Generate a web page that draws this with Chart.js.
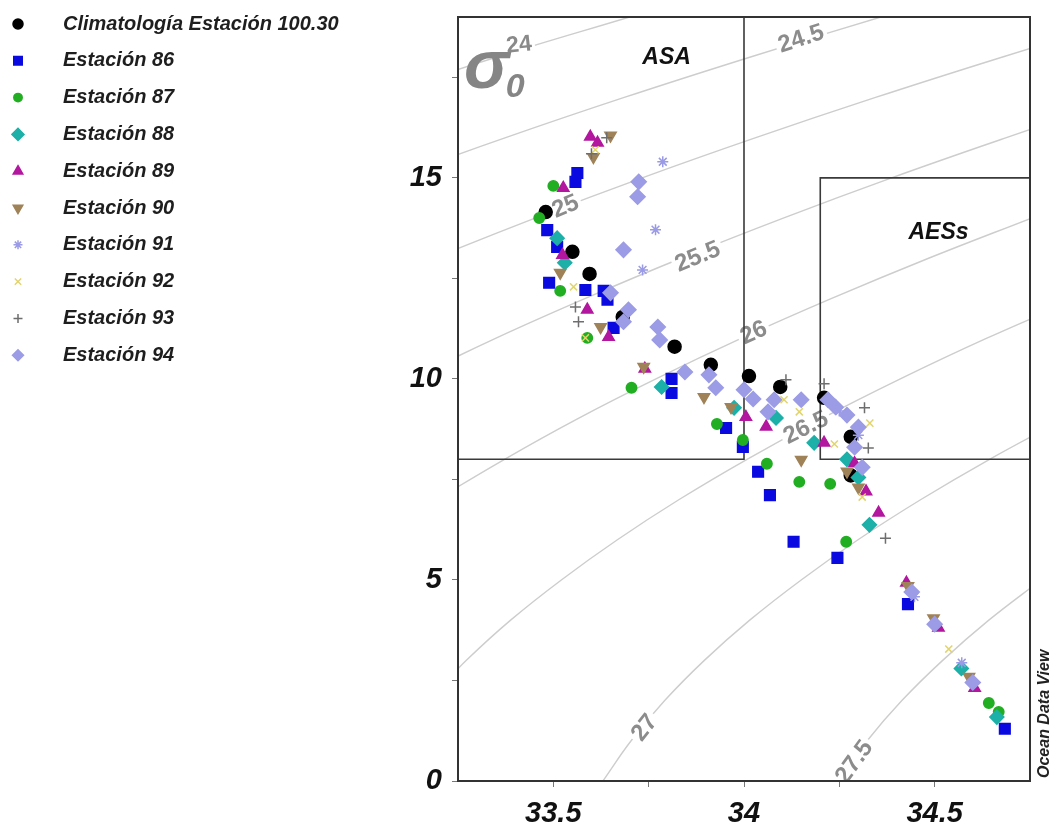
<!DOCTYPE html>
<html>
<head>
<meta charset="utf-8">
<script src="https://cdn.jsdelivr.net/npm/chart.js@4/dist/chart.umd.min.js"></script>
<style>
html, body { margin: 0; padding: 0; background: #fff; }
#wrap { width: 1061px; height: 835px; }
</style>
</head>
<body>
<div id="wrap"><canvas id="ts" width="1061" height="835"></canvas></div>
<script>
// axis ticks
const xTicks = [33.5, 33.75, 34, 34.25, 34.5];
const yTicks = [0, 2.5, 5, 7.5, 10, 12.5, 15, 17.5];
const xLabeled = [33.5, 34, 34.5];
const yLabeled = [0, 5, 10, 15];

const seriesNames = ['Climatología Estación 100.30', 'Estación 86', 'Estación 87', 'Estación 88',
  'Estación 89', 'Estación 90', 'Estación 91', 'Estación 92', 'Estación 93', 'Estación 94'];

// [salinity, temperature]
const clim = [[33.48,14.15],[33.55,13.16],[33.595,12.61],[33.682,11.54],[33.818,10.8],[33.913,10.35],
  [34.013,10.07],[34.095,9.8],[34.21,9.53],[34.28,8.56],[34.28,7.6]];
const est86 = [[33.563,15.12],[33.558,14.9],[33.484,13.7],[33.51,13.28],[33.489,12.39],[33.584,12.21],
  [33.632,12.19],[33.642,11.97],[33.658,11.27],[33.81,10.0],[33.81,9.65],[33.953,8.78],[33.997,8.31],[34.037,7.69],
  [34.068,7.11],[34.13,5.95],[34.245,5.55],[34.43,4.4],[34.684,1.3]];
const est87 = [[33.5,14.8],[33.463,14.0],[33.518,12.19],[33.589,11.02],[33.705,9.78],[33.929,8.88],
  [33.997,8.48],[34.06,7.89],[34.145,7.44],[34.226,7.39],[34.268,5.95],[34.642,1.94],[34.668,1.72]];
const est88 = [[33.53,12.89],[33.51,13.5],[33.784,9.8],[33.974,9.28],[34.084,9.03],[34.184,8.41],[34.27,8.0],
  [34.3,7.55],[34.329,6.37],[34.57,2.8],[34.663,1.59]];
const est89 = [[33.597,16.02],[33.616,15.87],[33.526,14.75],[33.524,13.08],[33.589,11.72],[33.645,11.04],
  [33.74,10.25],[34.005,9.05],[34.058,8.81],[34.21,8.41],[34.29,7.9],[34.32,7.2],[34.353,6.67],[34.426,4.93],
  [34.51,3.81],[34.605,2.31]];
const est90 = [[33.605,15.52],[33.65,16.05],[33.518,12.64],[33.624,11.29],[33.737,10.3],[33.895,9.55],[33.966,9.3],
  [34.15,7.99],[34.27,7.7],[34.3,7.3],[34.43,4.85],[34.497,4.05],[34.59,2.59]];
const est91 = [[33.787,15.4],[33.768,13.71],[33.734,12.71],[34.25,9.2],[34.3,8.6],[34.447,4.58],[34.571,2.94]];
const est92 = [[33.61,15.7],[33.553,12.29],[33.584,11.02],[34.105,9.48],[34.145,9.18],[34.237,8.38],[34.33,8.9],
  [34.31,7.06],[34.537,3.28]];
const est93 = [[33.6,15.6],[33.64,16.0],[33.558,11.79],[33.566,11.42],[34.11,9.98],[34.21,9.88],[34.316,9.28],
  [34.326,8.28],[34.371,6.04]];
const est94 = [[33.724,14.9],[33.721,14.53],[33.684,13.21],[33.65,12.14],[33.697,11.72],[33.684,11.42],
  [33.774,11.29],[33.779,10.97],[33.845,10.17],[33.908,10.1],[33.926,9.78],[34.0,9.73],[34.024,9.5],[34.079,9.48],
  [34.063,9.18],[34.15,9.48],[34.22,9.48],[34.24,9.3],[34.27,9.1],[34.3,8.8],[34.29,8.3],[34.31,7.8],
  [34.44,4.7],[34.5,3.9],[34.6,2.45]];

// sigma-0 isopycnals
const sig24 = [[32.72,16],[33.03,17],[33.35,18],[33.70,19],[34.05,20]];
const sig245 = [[32.8,14],[33.08,15],[33.375,16],[33.686,17],[34.015,18],[34.359,19],[34.72,20]];
const sig25 = [[32.938,12],[33.187,13],[33.452,14],[33.733,15],[34.031,16],[34.345,17],[34.676,18],[35.02,19]];
const sig255 = [[32.923,9],[33.128,10],[33.347,11],[33.584,12],[33.835,13],[34.103,14],[34.387,15],[34.688,16],[35.0,17]];
const sig26 = [[33.037,6],[33.196,7],[33.372,8],[33.562,9],[33.769,10],[33.991,11],[34.23,12],[34.484,13],[34.754,14]];
const sig265 = [[33.17,2],[33.272,3],[33.388,4],[33.521,5],[33.668,6],[33.83,7],[34.008,8],[34.201,9],[34.41,10],[34.634,11],[34.876,12]];
const sig27 = [[33.63,0],[33.704,1],[33.792,2],[33.896,3],[34.015,4],[34.15,5],[34.299,6],[34.464,7],[34.644,8],[34.839,9]];
const sig275 = [[34.247,0],[34.323,1],[34.414,2],[34.521,3],[34.642,4],[34.779,5]];

const asaBox = [[33.25,8],[34,8],[34,19]];
const aessBox = [[34.75,8],[34.2,8],[34.2,15],[34.75,15]];

const contourLabels = [
  {text: '24.5', s: 34.15, t: 18.45, rot: -18},
  {text: '25', s: 33.532, t: 14.28, rot: -22},
  {text: '25.5', s: 33.879, t: 13.03, rot: -22},
  {text: '26', s: 34.026, t: 11.14, rot: -24},
  {text: '26.5', s: 34.163, t: 8.78, rot: -26},
  {text: '27', s: 33.74, t: 1.32, rot: -52},
  {text: '27.5', s: 34.29, t: 0.47, rot: -54}
];

const FONT = '"Liberation Sans", Arial, sans-serif';
const toXY = arr => arr.map(p => ({x: p[0], y: p[1]}));

function contour(data) {
  return {type: 'scatter', data: toXY(data), showLine: true, pointRadius: 0, borderColor: '#cdcdcd',
    borderWidth: 1.4, tension: 0.4, order: 100};
}
function boxLine(data) {
  return {type: 'scatter', data: toXY(data), showLine: true, pointRadius: 0, borderColor: '#3a3a3a',
    borderWidth: 1.6, tension: 0, order: 50};
}
function stn(i, data, style, color, radius, legR, rot, fill) {
  return {label: seriesNames[i], data: toXY(data), pointStyle: style, pointRotation: rot || 0,
    pointRadius: radius, pointBackgroundColor: fill === false ? 'rgba(0,0,0,0)' : color,
    pointBorderColor: color, pointBorderWidth: 1.5, showLine: false, order: 10 - i, legendRadius: legR};
}

const stations = [
  stn(0, clim, 'circle', '#000000', 6.5, 5),
  stn(1, est86, 'rect', '#0a0ae0', 7.5, 6),
  stn(2, est87, 'circle', '#22ae22', 5.2, 4.2),
  stn(3, est88, 'rectRot', '#1cb0a8', 7, 6),
  stn(4, est89, 'triangle', '#b3169f', 6.5, 5.5),
  stn(5, est90, 'triangle', '#a08258', 6.5, 5.5, 180),
  stn(6, est91, 'star', '#9a9ae6', 5.5, 4.5, 0, false),
  stn(7, est92, 'crossRot', '#e2d46c', 5, 4.5, 0, false),
  stn(8, est93, 'cross', '#6e6e6e', 5.5, 4.5, 0, false),
  stn(9, est94, 'rectRot', '#9c9ce6', 7.5, 5.5)
];

function rotText(ctx, text, x, y, deg, font, color, bg) {
  ctx.save();
  ctx.translate(x, y);
  ctx.rotate(deg * Math.PI / 180);
  ctx.font = font;
  ctx.textAlign = 'center';
  ctx.textBaseline = 'middle';
  if (bg) {
    const w = ctx.measureText(text).width;
    ctx.fillStyle = '#fff';
    ctx.fillRect(-w / 2 - 3, -12, w + 6, 24);
  }
  ctx.fillStyle = color;
  ctx.fillText(text, 0, 0);
  ctx.restore();
}

const tsDecor = {
  id: 'tsDecor',
  afterDatasetDraw(chart, args) {
    // labels go on top of the isopycnals, under the boxes and points
    if (args.index !== 0) return;
    const ctx = chart.ctx, xs = chart.scales.x, ys = chart.scales.y;
    ctx.save();
    ctx.beginPath();
    ctx.rect(chart.chartArea.left, chart.chartArea.top, chart.chartArea.width, chart.chartArea.height);
    ctx.clip();
    contourLabels.forEach(l => {
      rotText(ctx, l.text, xs.getPixelForValue(l.s), ys.getPixelForValue(l.t), l.rot,
        'bold 24px ' + FONT, '#8c8c8c', true);
    });
    // sigma-theta tag, with the 24 isopycnal label
    rotText(ctx, '24', xs.getPixelForValue(33.41), ys.getPixelForValue(18.3), -6, 'bold 23px ' + FONT, '#8a8a8a', true);
    rotText(ctx, 'σ', xs.getPixelForValue(33.325), ys.getPixelForValue(17.7), 0, 'bold italic 68px ' + FONT, '#858585', false);
    rotText(ctx, '0', xs.getPixelForValue(33.4), ys.getPixelForValue(17.25), 0, 'bold italic 34px ' + FONT, '#858585', false);
    ctx.restore();
  },
  afterDatasetsDraw(chart) {
    const ctx = chart.ctx, a = chart.chartArea, xs = chart.scales.x, ys = chart.scales.y;
    ctx.save();
    ctx.strokeStyle = '#333';
    ctx.lineWidth = 2;
    ctx.strokeRect(a.left, a.top, a.right - a.left, a.bottom - a.top);
    rotText(ctx, 'ASA', xs.getPixelForValue(33.797), ys.getPixelForValue(18.0), 0, 'bold italic 23px ' + FONT, '#111', false);
    rotText(ctx, 'AESs', xs.getPixelForValue(34.51), ys.getPixelForValue(13.63), 0, 'bold italic 23px ' + FONT, '#111', false);
    ctx.translate(a.right + 15, a.bottom - 3);
    ctx.rotate(-Math.PI / 2);
    ctx.font = 'bold italic 16px ' + FONT;
    ctx.fillStyle = '#222';
    ctx.textAlign = 'left';
    ctx.textBaseline = 'middle';
    ctx.fillText('Ocean Data View', 0, 0);
    ctx.restore();
  },
  afterDraw(chart) {
    // legend at the upper left
    const ctx = chart.ctx;
    ctx.save();
    stations.forEach((d, i) => {
      const y = 24 + i * 36.8;
      ctx.fillStyle = d.pointBackgroundColor;
      ctx.strokeStyle = d.pointBorderColor;
      ctx.lineWidth = 1.5;
      Chart.helpers.drawPoint(ctx, {pointStyle: d.pointStyle, radius: d.legendRadius,
        rotation: d.pointRotation, borderWidth: 1.5}, 18, y);
      ctx.font = 'bold italic 20px ' + FONT;
      ctx.fillStyle = '#1e1e1e';
      ctx.textAlign = 'left';
      ctx.textBaseline = 'middle';
      ctx.fillText(d.label, 63, y);
    });
    ctx.restore();
  }
};

const datasets = [sig24, sig245, sig25, sig255, sig26, sig265, sig27, sig275].map(contour)
  .concat([boxLine(asaBox), boxLine(aessBox)])
  .concat(stations);

new Chart(document.getElementById('ts'), {
  type: 'scatter',
  data: {datasets: datasets},
  options: {
    responsive: false,
    animation: false,
    events: [],
    layout: {padding: {left: 0, top: 17, right: 31, bottom: 0}},
    plugins: {legend: {display: false}, tooltip: {enabled: false}},
    scales: {
      x: {
        type: 'linear', min: 33.25, max: 34.75,
        afterBuildTicks: s => { s.ticks = xTicks.map(v => ({value: v})); },
        afterFit: s => { s.height = 54; s.paddingLeft = 0; s.paddingRight = 0; },
        ticks: {
          autoSkip: false, maxRotation: 0, padding: 10, color: '#111',
          font: {family: FONT, size: 29, weight: 'bold', style: 'italic'},
          callback: v => xLabeled.includes(v) ? String(v) : ''
        },
        grid: {display: true, drawOnChartArea: false, tickLength: 6, color: '#777', lineWidth: 1},
        border: {display: true, color: '#333', width: 2}
      },
      y: {
        type: 'linear', min: 0, max: 19,
        afterBuildTicks: s => { s.ticks = yTicks.map(v => ({value: v})); },
        afterFit: s => { s.width = 458; s.paddingTop = 0; s.paddingBottom = 0; },
        ticks: {
          autoSkip: false, padding: 10, color: '#111',
          font: {family: FONT, size: 29, weight: 'bold', style: 'italic'},
          callback: v => yLabeled.includes(v) ? String(v) : ''
        },
        grid: {display: true, drawOnChartArea: false, tickLength: 6, color: '#777', lineWidth: 1},
        border: {display: true, color: '#333', width: 2}
      }
    }
  },
  plugins: [tsDecor]
});
</script>
</body>
</html>
